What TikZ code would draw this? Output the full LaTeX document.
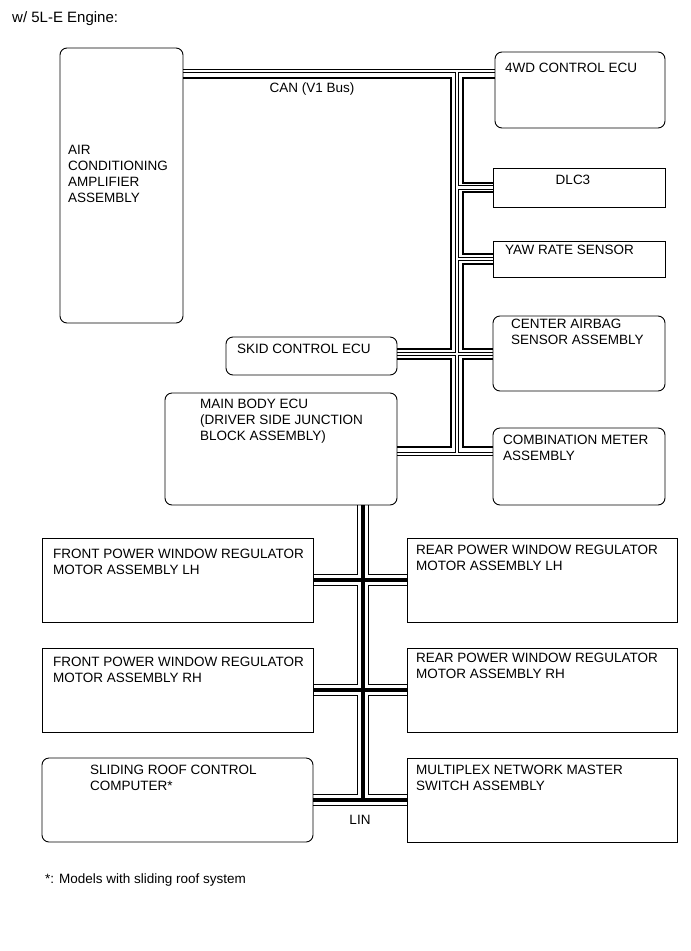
\documentclass[tikz,border=0pt]{standalone}
\usepackage{fontspec}
\setmainfont{Liberation Sans}
\usetikzlibrary{backgrounds}
\begin{document}
\begin{tikzpicture}[x=1pt, y=-1pt,
    ecu/.style={draw, line width=0.9pt, rounded corners=7pt, inner sep=0pt, outer sep=0pt},
    ecusq/.style={ecu, sharp corners},
    lbl/.style={anchor=north west, inner sep=0pt, align=left, font=\fontsize{13.5}{16}\selectfont},
    wo/.style={line width=4.6pt},
    wi/.style={white, line width=2.4pt},
    wb/.style={line width=2.8pt},
    lo/.style={line width=12.5pt},
    li/.style={white, line width=10.3pt},
    lc/.style={line width=4.2pt}]
    \useasboundingbox (0,0) rectangle (691,951);

    \node[lbl, font=\fontsize{15}{17}\selectfont] (title) at (12,11) {w/ 5L-E Engine:};

    % CAN devices
    \node[ecu, minimum width=123pt, minimum height=275pt] (acamp) at (121.5,185.5) {};
    \node[ecu, minimum width=170pt, minimum height=76pt] (fourwd) at (580,90) {};
    \node[ecusq, minimum width=172pt, minimum height=39pt] (dlc) at (579,187.5) {};
    \node[ecusq, minimum width=172pt, minimum height=36pt] (yaw) at (579,259) {};
    \node[ecu, minimum width=172pt, minimum height=75pt] (airbag) at (579,353.5) {};
    \node[ecu, minimum width=172pt, minimum height=77pt] (meter) at (579,466.5) {};
    \node[ecu, minimum width=171pt, minimum height=38pt] (skid) at (311.5,356) {};
    \node[ecu, minimum width=232pt, minimum height=112pt] (mainbody) at (281,449) {};

    \node[lbl] (acamptxt) at (68,145) {AIR\\CONDITIONING\\AMPLIFIER\\ASSEMBLY};
    \node[lbl] (fourwdtxt) at (505,63) {4WD CONTROL ECU};
    \node[lbl, anchor=north] (dlctxt) at (573,175) {DLC3};
    \node[lbl] (yawtxt) at (505,245) {YAW RATE SENSOR};
    \node[lbl] (airbagtxt) at (511,319) {CENTER AIRBAG\\SENSOR ASSEMBLY};
    \node[lbl] (metertxt) at (503,435) {COMBINATION METER\\ASSEMBLY};
    \node[lbl] (skidtxt) at (237,344) {SKID CONTROL ECU};
    \node[lbl] (mainbodytxt) at (200,399) {MAIN BODY ECU\\(DRIVER SIDE JUNCTION\\BLOCK ASSEMBLY)};

    % LIN devices
    \node[ecusq, minimum width=271pt, minimum height=84pt] (fpwlh) at (177.5,580) {};
    \node[ecusq, minimum width=270pt, minimum height=84pt] (rpwlh) at (542,580) {};
    \node[ecusq, minimum width=271pt, minimum height=84pt] (fpwrh) at (177.5,690) {};
    \node[ecusq, minimum width=270pt, minimum height=84pt] (rpwrh) at (542,690) {};
    \node[ecu, minimum width=271pt, minimum height=84pt] (sroof) at (177.5,800) {};
    \node[ecusq, minimum width=270pt, minimum height=84pt] (mplex) at (542,800) {};

    \node[lbl] (fpwlhtxt) at (53,549) {FRONT POWER WINDOW REGULATOR\\MOTOR ASSEMBLY LH};
    \node[lbl] (rpwlhtxt) at (416,545) {REAR POWER WINDOW REGULATOR\\MOTOR ASSEMBLY LH};
    \node[lbl] (fpwrhtxt) at (53,657) {FRONT POWER WINDOW REGULATOR\\MOTOR ASSEMBLY RH};
    \node[lbl] (rpwrhtxt) at (416,653) {REAR POWER WINDOW REGULATOR\\MOTOR ASSEMBLY RH};
    \node[lbl] (srooftxt) at (90,765) {SLIDING ROOF CONTROL\\COMPUTER*};
    \node[lbl] (mplextxt) at (416,765) {MULTIPLEX NETWORK MASTER\\SWITCH ASSEMBLY};

    % CAN bus
    \coordinate (wtop) at (457,71);
    \coordinate (wbot) at (457,454);
    \coordinate (wmid) at (457,354);
    \begin{scope}[on background layer]
        \foreach \s in {wo,wi} {
            \draw[\s] (acamp.east |- wtop) -- (fourwd.west |- wtop);
            \draw[\s] (wtop) -- (wbot);
            \draw[\s] (wtop |- dlc.west) -- (dlc.west);
            \draw[\s] (wtop |- yaw.west) -- (yaw.west);
            \draw[\s] (skid.east |- wmid) -- (airbag.west |- wmid);
            \draw[\s] (mainbody.east |- wbot) -- (meter.west |- wbot);
        }
        \draw[wb] (acamp.east |- 0,78) -| (451,349) -- (skid.east |- 0,349);
        \draw[wb] (skid.east |- 0,359) -| (451,447) -- (mainbody.east |- 0,447);
        \draw[wb] (fourwd.west |- 0,78) -| (463,183) -- (dlc.west |- 0,183);
        \draw[wb] (dlc.west |- 0,192) -| (463,254) -- (yaw.west |- 0,254);
        \draw[wb] (yaw.west |- 0,264) -| (463,349) -- (airbag.west |- 0,349);
        \draw[wb] (airbag.west |- 0,359) -| (463,447) -- (meter.west |- 0,447);

        % LIN bus
        \foreach \s in {lo,li,lc} {
            \draw[\s] (363,0 |- mainbody.south) -- (363,0 |- sroof.east);
            \draw[\s] (fpwlh.east) -- (rpwlh.west);
            \draw[\s] (fpwrh.east) -- (rpwrh.west);
            \draw[\s] (sroof.east) -- (mplex.west);
        }
    \end{scope}
    \node[font=\fontsize{13.5}{16}\selectfont, inner sep=0pt] (canlbl) at (312,89) {CAN (V1 Bus)};
    \node[font=\fontsize{13.5}{16}\selectfont, inner sep=0pt] (linlbl) at (360,820) {LIN};

    \node[lbl] (note) at (45,874) {*: Models with sliding roof system};
\end{tikzpicture}
\end{document}
